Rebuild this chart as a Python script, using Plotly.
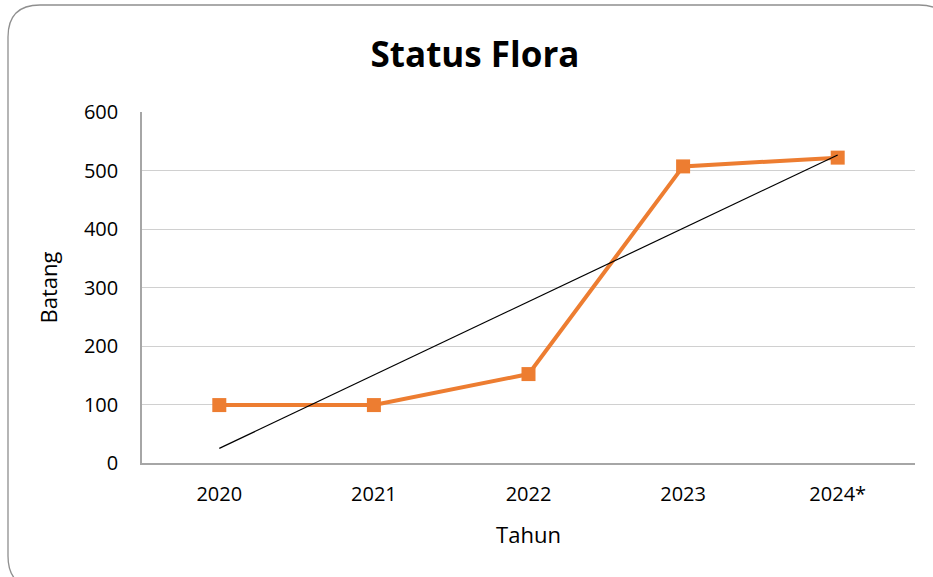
import numpy as np
import plotly.graph_objects as go

categories = ["2020", "2021", "2022", "2023", "2024*"]
batang = [99, 99, 152, 507, 522]
y_ticks = [0, 100, 200, 300, 400, 500, 600]

title_text = "Status Flora"
x_title = "Tahun"
y_title = "Batang"

W, H = 933, 577
L, T = 142, 112
PW, PH = 773, 351
R, B = W - L - PW, H - T - PH

def px(x):
    return (x - L) / PW

def py(y):
    return 1 - (y - T) / PH

# linear trendline (least squares) over category index
idx = np.arange(len(categories))
slope, intercept = np.polyfit(idx, batang, 1)
trend = slope * idx + intercept

fig = go.Figure()
fig.add_trace(go.Scatter(
    x=categories, y=batang, mode="lines+markers",
    line=dict(color="#ED7D31", width=4),
    marker=dict(symbol="square", size=14, color="#ED7D31"),
    showlegend=False, hoverinfo="x+y",
))
fig.add_trace(go.Scatter(
    x=[categories[0], categories[-1]], y=[trend[0], trend[-1]], mode="lines",
    line=dict(color="#000000", width=1.2),
    showlegend=False, hoverinfo="skip",
))

# rounded chart-area border (pixel geometry)
x0, y0, x1, y1, r = 8, 5, 951, 588, 32
path = (
    f"M {px(x0 + r)} {py(y0)} L {px(x1 - r)} {py(y0)} "
    f"Q {px(x1)} {py(y0)} {px(x1)} {py(y0 + r)} "
    f"L {px(x1)} {py(y1 - r)} Q {px(x1)} {py(y1)} {px(x1 - r)} {py(y1)} "
    f"L {px(x0 + r)} {py(y1)} Q {px(x0)} {py(y1)} {px(x0)} {py(y1 - r)} "
    f"L {px(x0)} {py(y0 + r)} Q {px(x0)} {py(y0)} {px(x0 + r)} {py(y0)} Z"
)

fig.update_layout(
    width=W, height=H,
    margin=dict(l=L, r=R, t=T, b=B),
    paper_bgcolor="white", plot_bgcolor="white",
    font=dict(family="Open Sans, sans-serif", color="#000000", size=20),
    title=dict(text=f"<b>{title_text}</b>", x=475 / W, xref="container",
               xanchor="center",
               y=1 - 55 / H, yanchor="middle",
               font=dict(size=35, family="Open Sans, sans-serif")),
    shapes=[dict(type="path", path=path, xref="paper", yref="paper",
                 line=dict(color="#8F8F8F", width=1.3), layer="below")],
    xaxis=dict(
        type="category", range=[-0.5, 4.5],
        showgrid=False, showline=True, linecolor="#A6A6A6", linewidth=1.5,
        ticks="", tickfont=dict(size=20), ticklabelstandoff=12,
        title=dict(text=x_title, font=dict(size=22), standoff=22),
        mirror=False, zeroline=False, fixedrange=True,
    ),
    yaxis=dict(
        range=[0, 600], tickvals=y_ticks,
        showgrid=True, gridcolor="#D0D0D0", gridwidth=1,
        showline=True, linecolor="#A6A6A6", linewidth=1.5,
        ticks="", tickfont=dict(size=20), ticklabelstandoff=18,
        title=dict(text=y_title, font=dict(size=22), standoff=20),
        zeroline=False, fixedrange=True,
    ),
)

fig.write_html(
    "out.html",
    config={"displayModeBar": False},
    post_script="document.body.style.margin='0';document.body.style.overflow='hidden';",
)
